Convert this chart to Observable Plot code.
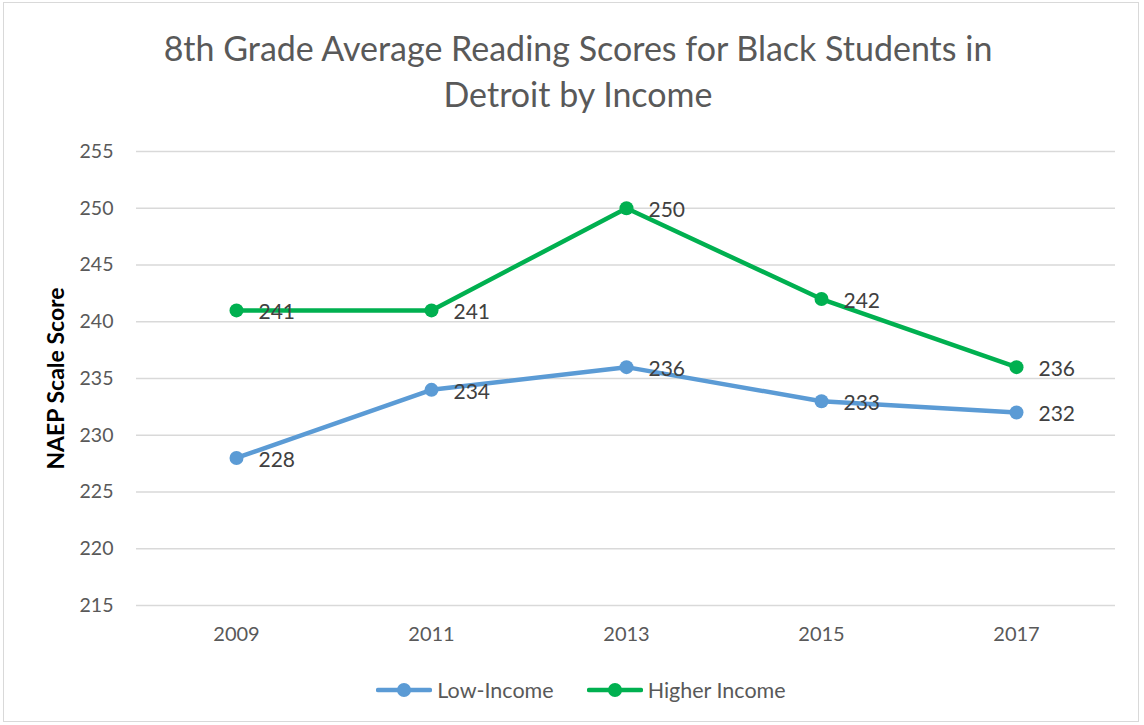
<!DOCTYPE html>
<html>
<head>
<meta charset="utf-8">
<script src="https://cdn.jsdelivr.net/npm/d3@7"></script>
<script src="https://cdn.jsdelivr.net/npm/@observablehq/plot@0.6"></script>
<style>
  html, body { margin: 0; padding: 0; background: #fff; }
  #wrap { position: relative; width: 1144px; height: 725px; font-family: Lato, "Open Sans", sans-serif; overflow: hidden; }
  #frame { position: absolute; left: 3px; top: 2px; width: 1136px; height: 720px; border: 1px solid #d9d9d9; box-sizing: border-box; pointer-events: none; }
  #title { position: absolute; left: 0; top: 25px; width: 1156px; text-align: center; font-size: 34px; line-height: 46px; color: #595959; }
  #chart { position: absolute; left: 0; top: 0; }
  #legend { position: absolute; left: 0; top: 677px; width: 1144px; display: flex; justify-content: center; gap: 33px; font-size: 21.5px; color: #595959; padding-left: 18px; box-sizing: border-box; }
  .item { display: flex; align-items: center; gap: 5px; }
</style>
</head>
<body>
<div id="wrap">
  <div id="chart"></div>
  <div id="title">8th Grade Average Reading Scores for Black Students in<br>Detroit by Income</div>
  <div id="legend"></div>
  <div id="frame"></div>
</div>
<script>
const years = ["2009", "2011", "2013", "2015", "2017"];
const lowIncome = [228, 234, 236, 233, 232];
const higherIncome = [241, 241, 250, 242, 236];
const seriesNames = ["Low-Income", "Higher Income"];
const seriesColors = ["#5b9bd5", "#00b050"];
const yTicks = [215, 220, 225, 230, 235, 240, 245, 250, 255];
const yLabel = "NAEP Scale Score";

const rows = [];
[lowIncome, higherIncome].forEach((vals, s) => {
  years.forEach((yr, i) => rows.push({year: yr, value: vals[i], series: seriesNames[s]}));
});

const chart = Plot.plot({
  width: 1144,
  height: 660,
  marginLeft: 136,
  marginRight: 29,
  marginTop: 151,
  marginBottom: 55,
  style: {fontFamily: "Lato, 'Open Sans', sans-serif", background: "transparent", overflow: "visible"},
  x: {type: "point", domain: years, padding: 0.5, label: null},
  y: {domain: [215, 255], label: null},
  color: {domain: seriesNames, range: seriesColors},
  marks: [
    Plot.ruleY(yTicks, {stroke: "#d9d9d9", strokeWidth: 1.5}),
    Plot.axisY({ticks: yTicks, tickSize: 0, tickPadding: 23, fontSize: 19.5, fill: "#595959", label: null}),
    Plot.axisX({tickSize: 0, tickPadding: 21, fontSize: 20, fill: "#595959", label: null}),
    Plot.text([yLabel], {frameAnchor: "left", dx: -80, rotate: -90, textAnchor: "middle", fontSize: 23, fontWeight: "bold", fill: "#000"}),
    Plot.line(rows, {x: "year", y: "value", z: "series", stroke: "series", strokeWidth: 4.5}),
    Plot.dot(rows, {x: "year", y: "value", fill: "series", r: 7}),
    Plot.text(rows, {x: "year", y: "value", text: d => String(d.value), textAnchor: "start", dx: 22, dy: 2, fontSize: 21, fill: "#404040"})
  ]
});
document.getElementById("chart").appendChild(chart);

const legend = document.getElementById("legend");
seriesNames.forEach((name, i) => {
  const item = document.createElement("div");
  item.className = "item";
  item.innerHTML = `<svg width="56" height="16"><line x1="2" y1="8" x2="54" y2="8" stroke="${seriesColors[i]}" stroke-width="4.5" stroke-linecap="round"/><circle cx="28" cy="8" r="7" fill="${seriesColors[i]}"/></svg><span>${name}</span>`;
  legend.appendChild(item);
});
</script>
</body>
</html>
